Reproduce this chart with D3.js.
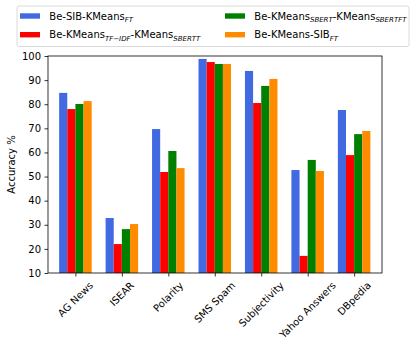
<!DOCTYPE html>
<html><head><meta charset="utf-8">
<script src="https://cdn.jsdelivr.net/npm/d3@7"></script>
<style>body{margin:0;background:#fff}svg{display:block;font-family:"DejaVu Sans",sans-serif}</style>
</head><body><svg id="c" width="420" height="347"></svg>
<script>
const categories = ["AG News","ISEAR","Polarity","SMS Spam","Subjectivity","Yahoo Answers","DBpedia"];
const sibFT      = [84.7, 32.8, 69.7, 98.8, 93.8, 52.7, 77.6];
const tfidfSbert = [78.0, 22.0, 51.9, 97.5, 80.5, 17.1, 58.9];
const sbertSbert = [80.1, 28.2, 60.6, 96.7, 87.6, 56.9, 67.6];
const kmeansSib  = [81.3, 30.3, 53.5, 96.7, 90.5, 52.3, 68.9];
const yTicks = [10,20,30,40,50,60,70,80,90,100];
const seriesColors = ["#4169e1","#ff0000","#008000","#ff8c00"];
const series = [sibFT, tfidfSbert, sbertSbert, kmeansSib];

const svg = d3.select("#c");
const L=48, R=382, T=56, B=273;
const x = d3.scaleLinear().domain([-0.59, 6.6]).range([L,R]);
const y = d3.scaleLinear().domain([10,100]).range([B,T]);
const bw = 0.175;

series.forEach((vals,si)=>{
  svg.append("g").selectAll("rect").data(vals).join("rect")
    .attr("x",(d,i)=>x(i+(si-2)*bw))
    .attr("width",x(bw)-x(0))
    .attr("y",d=>y(d))
    .attr("height",d=>y(10)-y(d))
    .attr("fill",seriesColors[si]);
});

// axes
const ya = svg.append("g").attr("transform",`translate(${L},0)`)
  .call(d3.axisLeft(y).tickValues(yTicks).tickSize(3.5).tickPadding(3.5).tickFormat(d3.format("d")));
ya.select(".domain").remove();
ya.selectAll("text").attr("font-size",10).attr("fill","#000").attr("font-family","DejaVu Sans");
ya.selectAll("line").attr("stroke","#000").attr("stroke-width",0.8);

const xa = svg.append("g").attr("transform",`translate(0,${B})`)
  .call(d3.axisBottom(x).tickValues(d3.range(categories.length)).tickSize(3.5).tickFormat(""));
xa.select(".domain").remove();
xa.selectAll("line").attr("stroke","#000").attr("stroke-width",0.8);

// x labels rotated 45, centered on tick
categories.forEach((c,i)=>{
  const t = svg.append("text").text(c).attr("font-size",10).attr("fill","#000")
    .attr("text-anchor","middle").attr("dominant-baseline","central");
  const w = t.node().getComputedTextLength();
  const h = 10;
  const cx = x(i), cy = B + 3.5 + 3.5 + (w + h)/(2*Math.SQRT2);
  t.attr("x",cx).attr("y",cy).attr("transform",`rotate(-45,${cx},${cy})`);
});

// frame
svg.append("rect").attr("x",L).attr("y",T).attr("width",R-L).attr("height",B-T)
  .attr("fill","none").attr("stroke","#000").attr("stroke-width",0.8);

// y label
svg.append("text").attr("transform",`translate(14.5,${(T+B)/2}) rotate(-90)`)
  .attr("text-anchor","middle").attr("font-size",10).text("Accuracy %");

// legend
svg.append("rect").attr("x",17).attr("y",6).attr("width",392).attr("height",40.5)
  .attr("rx",2).attr("fill","#fff").attr("stroke","#d0d0d0").attr("stroke-width",0.8);
const legendItems = [
  {c:0, px:20, py:13.3, parts:[["Be-SIB-KMeans",0],["FT",1]]},
  {c:1, px:20, py:32, parts:[["Be-KMeans",0],["TF\u2212IDF",1],["-KMeans",0],["SBERTT",1]]},
  {c:2, px:225, py:13.3, parts:[["Be-KMeans",0],["SBERT",1],["-KMeans",0],["SBERTFT",1]]},
  {c:3, px:225, py:32, parts:[["Be-KMeans-SIB",0],["FT",1]]}
];
legendItems.forEach(it=>{
  svg.append("rect").attr("x",it.px).attr("y",it.py).attr("width",20).attr("height",5.4).attr("fill",seriesColors[it.c]);
  const t = svg.append("text").attr("x",it.px+29.3).attr("y",it.py+6.3).attr("font-size",10);
  it.parts.forEach(([s,sub])=>{
    if(sub){
      t.append("tspan").attr("font-size",7).attr("font-style","italic").attr("dy",2.2).text(s);
    } else {
      const ts = t.append("tspan").text(s);
      if(t.selectAll("tspan").size()>1) ts.attr("dy",-2.2);
    }
  });
});
</script></body></html>
